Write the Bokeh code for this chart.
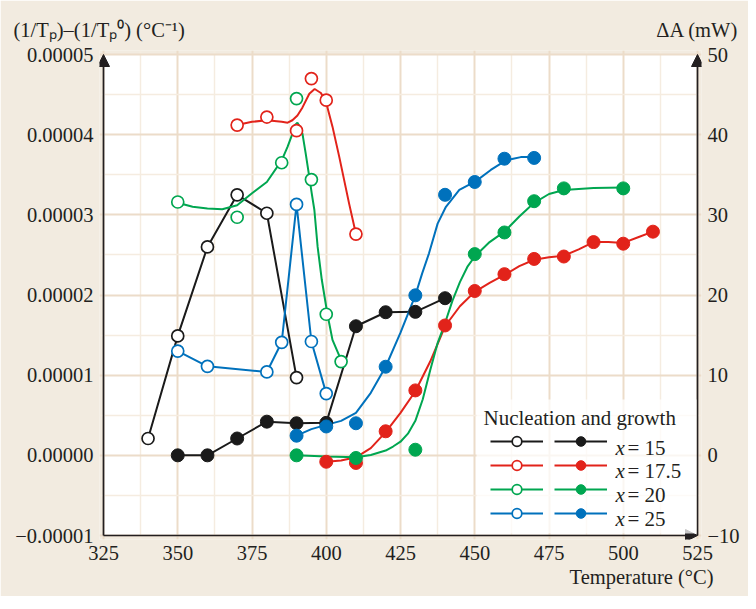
from bokeh.plotting import figure
from bokeh.models import (Range1d, LinearAxis, FixedTicker, CustomJSTickFormatter, Arrow,
                          NormalHead, Label, Legend, LegendItem, BoxAnnotation, Title)
from bokeh.embed import file_html
from bokeh.resources import INLINE

# ---------------- data ----------------
x_ticks = [325, 350, 375, 400, 425, 450, 475, 500, 525]
y_ticks = [-0.00001, 0.0, 0.00001, 0.00002, 0.00003, 0.00004, 0.00005]
dA_ticks = [-10, 0, 10, 20, 30, 40, 50]

# open symbols: (1/Tp)-(1/Tp0), left axis
T_open_15 = [340, 350, 360, 370, 380, 390]
N_open_15 = [2.1e-6, 1.49e-5, 2.60e-5, 3.25e-5, 3.02e-5, 0.97e-5]
T_open_175 = [370, 380, 390, 395, 400, 410]
N_open_175 = [4.12e-5, 4.22e-5, 4.05e-5, 4.70e-5, 4.43e-5, 2.76e-5]
T_open_20 = [350, 370, 385, 390, 395, 400, 405]
N_open_20 = [3.16e-5, 2.97e-5, 3.65e-5, 4.45e-5, 3.44e-5, 1.76e-5, 1.17e-5]
T_open_25 = [350, 360, 380, 385, 390, 395, 400]
N_open_25 = [1.30e-5, 1.11e-5, 1.04e-5, 1.41e-5, 3.13e-5, 1.42e-5, 0.77e-5]

# filled symbols: delta A (mW), right axis
T_fill_15 = [350, 360, 370, 380, 390, 400, 410, 420, 430, 440]
G_fill_15 = [0.0, 0.0, 2.1, 4.2, 4.0, 4.05, 16.1, 17.85, 17.9, 19.6]
T_fill_175 = [400, 410, 420, 430, 440, 450, 460, 470, 480, 490, 500, 510]
G_fill_175 = [-0.8, -0.95, 3.0, 8.1, 16.2, 20.5, 22.6, 24.5, 24.8, 26.6, 26.4, 27.9]
T_fill_20 = [390, 410, 430, 450, 460, 470, 480, 500]
G_fill_20 = [0.0, -0.33, 0.7, 25.1, 27.8, 31.7, 33.3, 33.3]
T_fill_25 = [390, 400, 410, 420, 430, 440, 450, 460, 470]
G_fill_25 = [2.45, 3.6, 4.0, 11.05, 19.96, 32.5, 34.1, 37.0, 37.1]

# fitted curves
fit_T_o175 = [370, 375, 380, 385, 387, 388.6, 390.3, 392, 394.3, 396.1, 398.2, 399.9, 402.1, 404.4, 407.7, 410]
fit_N_o175 = [4.12e-5, 4.16e-5, 4.18e-5, 4.16e-5, 4.15e-5, 4.18e-5, 4.24e-5, 4.34e-5, 4.51e-5, 4.57e-5,
              4.52e-5, 4.41e-5, 4.10e-5, 3.72e-5, 3.14e-5, 2.76e-5]
fit_T_o20 = [350, 355, 360, 365, 370, 375, 380, 385, 387, 388.6, 389.5, 390.3, 391.1, 392, 393.1,
             394.3, 395.1, 396, 397.1, 398.5, 400.4, 402.1, 404.4, 406]
fit_N_o20 = [3.15e-5, 3.10e-5, 3.08e-5, 3.07e-5, 3.12e-5, 3.27e-5, 3.41e-5, 3.68e-5, 3.85e-5, 4.01e-5,
             4.12e-5, 4.15e-5, 4.10e-5, 4.01e-5, 3.76e-5, 3.47e-5, 3.27e-5, 3.06e-5, 2.60e-5, 2.19e-5,
             1.76e-5, 1.44e-5, 1.24e-5, 1.16e-5]
fit_T_f175 = [400, 405, 410, 415, 420, 425, 430, 435, 440, 445, 450, 455, 460, 465, 470, 475, 480,
              485, 490, 495, 500, 505, 510]
fit_G_f175 = [-0.8, -0.65, -0.25, 0.9, 2.9, 5.3, 8.0, 11.7, 16.1, 18.6, 20.4, 21.5, 22.5, 23.6, 24.4,
              24.7, 24.9, 25.7, 26.6, 26.6, 26.5, 27.2, 27.9]
fit_T_f20 = [390, 400, 410, 415, 420, 422.5, 425, 427.5, 430, 432.5, 435, 437.5, 440, 442.5, 445,
             447.5, 450, 455, 460, 465, 470, 475, 480, 490, 500]
fit_G_f20 = [0.0, -0.15, -0.25, 0.05, 0.6, 1.1, 1.7, 2.7, 4.3, 7.0, 10.6, 14.0, 16.5, 19.3, 21.6,
             23.5, 24.8, 26.6, 27.9, 29.8, 31.5, 32.6, 33.1, 33.35, 33.4]
fit_T_f25 = [390, 395, 400, 405, 410, 415, 420, 425, 430, 432.3, 434.6, 437.5, 440.3, 444.8, 450.4,
             455.4, 460.5, 465.5, 470]
fit_G_f25 = [2.45, 3.27, 3.8, 4.3, 5.3, 7.8, 11.05, 15.3, 19.96, 22.7, 25.2, 28.9, 31.0, 33.1, 34.2,
             35.6, 36.8, 37.2, 37.2]

legend_title = "Nucleation and growth"
legend_x = ["15", "17.5", "20", "25"]
title_left = "(1/T\u209a)\u2013(1/T\u209a\u2070) (\u00b0C\u207b\u00b9)"
title_right = "\u0394A (mW)"
title_bottom = "Temperature (\u00b0C)"

# ---------------- style ----------------
FONT = "Liberation Serif"
TXT = "#231f20"
FS = "20.5px"
LFS = "21px"
BLACK, RED, GREEN, BLUE = "#1a1a1a", "#e2231a", "#00a650", "#0071bc"
BEIGE = "#f2ebe0"

# geometry (page px): plot area 111..705 x 62..543; frame padded by 4px all round
PAD = 4
XR = (325, 525)
YR = (-0.00001, 0.00005)
DR = (-10, 50)
xpad = (XR[1] - XR[0]) * PAD / 594
ypad = (YR[1] - YR[0]) * PAD / 481
dpad = (DR[1] - DR[0]) * PAD / 481

p = figure(width=748, height=596, output_backend="svg", toolbar_location=None,
           x_range=Range1d(XR[0] - xpad, XR[1] + xpad), y_range=Range1d(YR[0] - ypad, YR[1] + ypad),
           min_border_left=99, min_border_right=47, min_border_top=50, min_border_bottom=57,
           background_fill_color=BEIGE, border_fill_color=BEIGE, outline_line_color=None)
p.extra_y_ranges = {"dA": Range1d(DR[0] - dpad, DR[1] + dpad)}

# white plot area under the grid
p.add_layout(BoxAnnotation(left=XR[0], right=XR[1], bottom=YR[0], top=YR[1], level="image",
                           fill_color="white", fill_alpha=1.0, line_color=None))

xt = FixedTicker(ticks=x_ticks, minor_ticks=[a + 12.5 for a in x_ticks[:-1]])
yt = FixedTicker(ticks=y_ticks, minor_ticks=[(a + b) / 2 for a, b in zip(y_ticks[:-1], y_ticks[1:])])
p.xaxis.ticker = xt
p.yaxis.ticker = yt
p.xgrid.ticker = xt
p.ygrid.ticker = yt
p.yaxis.formatter = CustomJSTickFormatter(code="return tick.toFixed(5).replace('-', '\u2212');")

rax = LinearAxis(y_range_name="dA", ticker=FixedTicker(ticks=dA_ticks),
                 formatter=CustomJSTickFormatter(code="return String(tick).replace('-', '\u2212');"))
p.add_layout(rax, "right")

for ax in [p.xaxis[0], p.yaxis[0], rax]:
    ax.axis_line_color = None
    ax.major_tick_line_color = None
    ax.minor_tick_line_color = None
    ax.major_tick_out = 0
    ax.major_tick_in = 0
    ax.minor_tick_out = 0
    ax.minor_tick_in = 0
    ax.major_label_text_font = FONT
    ax.major_label_text_font_size = FS
    ax.major_label_text_color = TXT
    ax.major_label_standoff = 10 - PAD
rax.major_label_standoff = 10 - PAD

for g in [p.xgrid[0], p.ygrid[0]]:
    g.grid_line_color = "#ecdcc9"
    g.grid_line_width = 2
    g.minor_grid_line_color = "#f5ece0"
    g.minor_grid_line_width = 1.5

# ---------------- series ----------------
LW = 2
SZ = 12

lines, marks = {}, {}
open_specs = [("15", T_open_15, N_open_15, T_open_15, N_open_15, BLACK),
              ("175", T_open_175, N_open_175, fit_T_o175, fit_N_o175, RED),
              ("20", T_open_20, N_open_20, fit_T_o20, fit_N_o20, GREEN),
              ("25", T_open_25, N_open_25, T_open_25, N_open_25, BLUE)]
fill_specs = [("15", T_fill_15, G_fill_15, T_fill_15, G_fill_15, BLACK),
              ("175", T_fill_175, G_fill_175, fit_T_f175, fit_G_f175, RED),
              ("20", T_fill_20, G_fill_20, fit_T_f20, fit_G_f20, GREEN),
              ("25", T_fill_25, G_fill_25, fit_T_f25, fit_G_f25, BLUE)]

for k, T, N, fT, fN, col in open_specs:
    lines["o" + k] = p.line(fT, fN, line_color=col, line_width=LW)
for k, T, G, fT, fG, col in fill_specs:
    lines["f" + k] = p.line(fT, fG, line_color=col, line_width=LW, y_range_name="dA")
for k, T, N, fT, fN, col in open_specs:
    marks["o" + k] = p.scatter(T, N, size=SZ, fill_color="white", line_color=col, line_width=1.7)
for k, T, G, fT, fG, col in fill_specs:
    marks["f" + k] = p.scatter(T, G, size=SZ + 1, fill_color=col, line_color=col, line_width=1,
                               y_range_name="dA")

# ---------------- axes lines with arrow heads ----------------
def arrow(x0, y0, x1, y1):
    p.add_layout(Arrow(end=NormalHead(size=12, fill_color=TXT, line_color=TXT, line_width=1),
                       x_start=x0, y_start=y0, x_end=x1, y_end=y1, line_color=TXT, line_width=1.7))

arrow(XR[0], YR[0], XR[0], YR[1])
arrow(XR[0], YR[0], XR[1], YR[0])
arrow(XR[1], YR[0], XR[1], YR[1])

# ---------------- legend ----------------
FL, FB = 107, 547   # page position of frame left / bottom
p.add_layout(BoxAnnotation(left=484 - FL, right=704 - FL, bottom=FB - 541, top=FB - 407,
                           left_units="screen", right_units="screen",
                           bottom_units="screen", top_units="screen",
                           fill_color="white", fill_alpha=0.75, line_color=None))

keys = ["15", "175", "20", "25"]
common = dict(glyph_width=53, glyph_height=24, spacing=0, padding=0, margin=0,
              label_standoff=0, label_width=0, label_height=20, label_text_font_size="4px",
              border_line_color=None, background_fill_alpha=0)
leg1 = Legend(items=[LegendItem(label=" ", renderers=[lines["o" + k], marks["o" + k]]) for k in keys],
              location=(498 - FL, 14), **common)
leg2 = Legend(items=[LegendItem(label=" ", renderers=[lines["f" + k], marks["f" + k]]) for k in keys],
              location=(562 - FL, 14), **common)
p.add_layout(leg1)
p.add_layout(leg2)


def lab(text, px, pybase, size=LFS, style="normal", align="left"):
    p.add_layout(Label(text=text, x=px - FL, y=FB - pybase, x_units="screen", y_units="screen",
                       text_font=FONT, text_font_size=size, text_font_style=style,
                       text_color=TXT, text_align=align, text_baseline="alphabetic"))


lab(legend_title, 491, 425)
for i, xv in enumerate(legend_x):
    pb = 455 + i * 23.7
    lab("x", 623, pb, style="italic")
    lab("= " + xv, 635, pb)

# ---------------- axis titles (side panels, not clipped) ----------------
def mk_title(text, align, offset, standoff, valign):
    t = Title(text=text, align=align, vertical_align=valign, offset=offset, text_font=FONT,
              text_font_size=FS, text_font_style="normal", text_color=TXT)
    t.standoff = standoff
    return t

# both top titles share one baseline: one title line, the gap held by no-break spaces
top_line = title_left + "\u00a0" * 92 + title_right
p.add_layout(mk_title(top_line, "left", 22 - FL - 5 + 4, 15, "top"), "above")
p.add_layout(mk_title(title_bottom, "right", (705 + PAD) - 5 - 720 + 4, 3, "bottom"), "below")

open("out.html", "w").write(file_html(p, INLINE))
